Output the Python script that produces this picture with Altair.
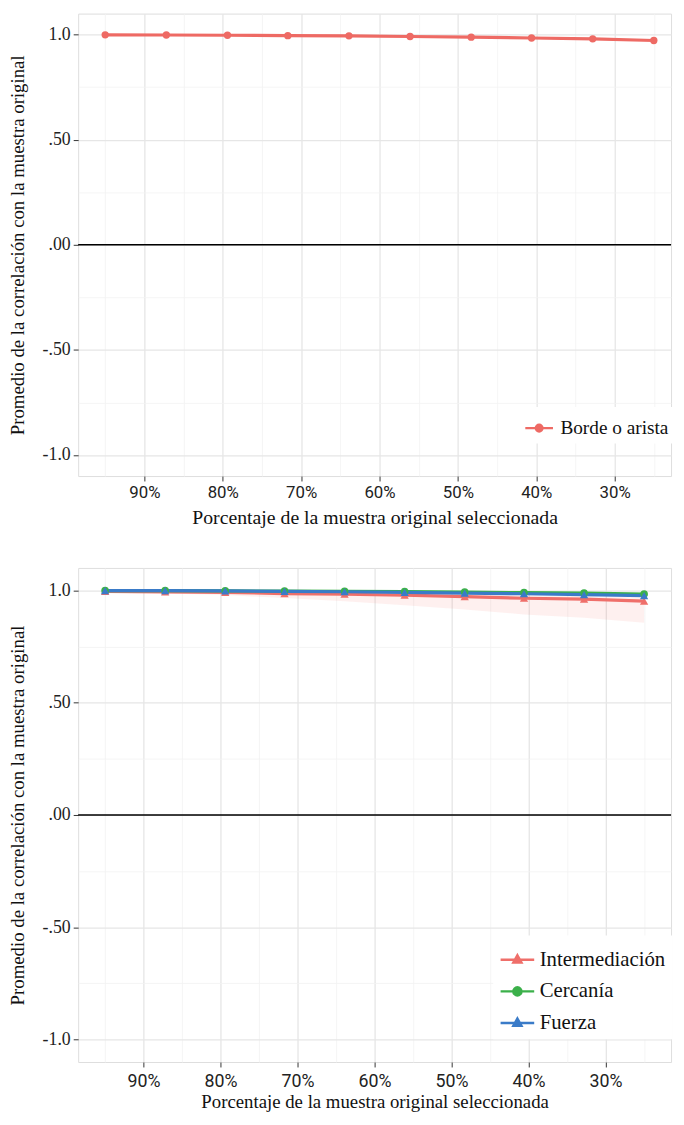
import altair as alt
import pandas as pd

# ---------------- data ----------------
pct = [95.0, 87.2, 79.4, 71.7, 63.9, 56.1, 48.3, 40.6, 32.8, 25.0]

borde = [0.999, 0.998, 0.997, 0.995, 0.994, 0.991, 0.988, 0.984, 0.980, 0.972]

intermediacion = [0.995, 0.993, 0.991, 0.986, 0.983, 0.979, 0.972, 0.965, 0.961, 0.952]
cercania = [0.999, 0.999, 0.998, 0.997, 0.996, 0.995, 0.993, 0.990, 0.988, 0.984]
fuerza = [0.999, 0.999, 0.998, 0.996, 0.994, 0.991, 0.988, 0.985, 0.981, 0.977]

inter_low = [0.990, 0.986, 0.979, 0.966, 0.952, 0.934, 0.915, 0.893, 0.878, 0.856]
inter_high = [0.998, 0.997, 0.996, 0.993, 0.991, 0.988, 0.983, 0.978, 0.975, 0.968]

series_top = ["Borde o arista"]
series_bottom = ["Intermediación", "Cercanía", "Fuerza"]
triangle_series = ["Intermediación", "Fuerza"]
circle_series = ["Cercanía"]

x_tick_values = [90, 80, 70, 60, 50, 40, 30]
x_tick_labels = ["90%", "80%", "70%", "60%", "50%", "40%", "30%"]
x_grid_values = [95, 90, 85, 80, 75, 70, 65, 60, 55, 50, 45, 40, 35, 30, 25]

y_tick_values = [1.0, 0.5, 0.0, -0.5, -1.0]
y_tick_labels = ["1.0", ".50", ".00", "-.50", "-1.0"]
y_grid_values = [-1.0, -0.75, -0.5, -0.25, 0.0, 0.25, 0.5, 0.75, 1.0]

zero_line = [0.0]

x_title = "Porcentaje de la muestra original seleccionada"
y_title = "Promedio de la correlación con la muestra original"

# ---------------- tables ----------------
df_top = pd.DataFrame({"pct": pct, "val": borde, "serie": series_top[0]})
df_bot = pd.concat([
    pd.DataFrame({"pct": pct, "val": intermediacion, "serie": series_bottom[0]}),
    pd.DataFrame({"pct": pct, "val": cercania, "serie": series_bottom[1]}),
    pd.DataFrame({"pct": pct, "val": fuerza, "serie": series_bottom[2]}),
], ignore_index=True)
df_band = pd.DataFrame({"pct": pct, "lo": inter_low, "hi": inter_high})
df_zero = pd.DataFrame({"y": zero_line})

# ---------------- styling helpers ----------------
# legend symbols: a short line with the marker in the middle
CIRCLE_LEG = "M-1,0L1,0M-0.24,0A0.24,0.24,0,1,1,0.24,0A0.24,0.24,0,1,1,-0.24,0Z"
TRI_LEG = "M-1,0L1,0M0,-0.26L0.24,0.17L-0.24,0.17Z"

SERIF = "Liberation Serif"
SANS = "Roboto"

x_label_expr = "".join(f"datum.value == {v} ? '{l}' : " for v, l in zip(x_tick_values, x_tick_labels)) + "''"
y_label_expr = "".join(f"datum.value == {v} ? '{l}' : " for v, l in zip(y_tick_values, y_tick_labels)) + "''"

x_minor_test = "datum.value % 10 != 0"
y_minor_test = "abs(datum.value * 2 - round(datum.value * 2)) > 0.000001"


def x_axis(label_size, title_size, label_pad, title_pad):
    return alt.Axis(
        values=x_grid_values, labelExpr=x_label_expr, title=x_title,
        labelFont=SANS, labelFontSize=label_size, labelColor="#222222",
        titleFont=SERIF, titleFontSize=title_size, titleFontWeight="normal", titleColor="#111111",
        labelPadding=label_pad, titlePadding=title_pad, domain=False,
        tickSize=5, tickColor="#333333", tickWidth=1,
        tickOpacity={"condition": {"test": x_minor_test, "value": 0}, "value": 1},
        gridColor={"condition": {"test": x_minor_test, "value": "#f2f2f2"}, "value": "#e6e6e6"},
        gridWidth={"condition": {"test": x_minor_test, "value": 0.8}, "value": 1.3},
        labelFlush=False, labelOverlap=False,
    )


def y_axis(label_size, title_size, title_pad):
    return alt.Axis(
        values=y_grid_values, labelExpr=y_label_expr, title=y_title,
        labelFont=SERIF, labelFontSize=label_size, labelColor="#222222",
        titleFont=SERIF, titleFontSize=title_size, titleFontWeight="normal", titleColor="#111111",
        labelPadding=3, titlePadding=title_pad, domain=False,
        tickSize=5, tickColor="#333333", tickWidth=1,
        tickOpacity={"condition": {"test": y_minor_test, "value": 0}, "value": 1},
        gridColor={"condition": {"test": y_minor_test, "value": "#f2f2f2"}, "value": "#e6e6e6"},
        gridWidth={"condition": {"test": y_minor_test, "value": 0.8}, "value": 1.3},
        labelFlush=False, labelOverlap=False,
    )


def legend(x, y, sym, font_size, label_offset, row_pad):
    return alt.Legend(
        title=None, orient="none", legendX=x, legendY=y,
        fillColor="white", padding=6, rowPadding=row_pad,
        symbolSize=sym, symbolStrokeWidth=2.5, symbolOpacity=1,
        labelFont=SERIF, labelFontSize=font_size, labelColor="#111111",
        labelOffset=label_offset,
    )


ys = alt.Scale(domain=[-1.1, 1.1], nice=False, zero=False)

# ---------------- top panel ----------------
top_colors = ["#ee6a64"]
xs_top = alt.Scale(domain=[22.8, 98.45], reverse=True, nice=False, zero=False)
leg_top = legend(445, 398, 784, 19.5, 6, 0)
col_top = alt.Scale(domain=series_top, range=top_colors)

top_base = alt.Chart(df_top)
top_line = top_base.mark_line(strokeWidth=3.2).encode(
    x=alt.X("pct:Q", scale=xs_top, axis=x_axis(17, 20, 4, 7)),
    y=alt.Y("val:Q", scale=ys, axis=y_axis(18, 19, 15)),
    stroke=alt.Stroke("serie:N", scale=col_top, legend=leg_top),
)
top_pts = top_base.mark_point(filled=True, shape="circle", size=55, opacity=1).encode(
    x="pct:Q", y="val:Q",
    fill=alt.Fill("serie:N", scale=col_top, legend=leg_top),
)
top_leg = top_base.mark_point(filled=True, opacity=0, strokeWidth=2.5).encode(
    x="pct:Q", y="val:Q",
    fill=alt.Fill("serie:N", scale=col_top, legend=leg_top),
    stroke=alt.Stroke("serie:N", scale=col_top, legend=leg_top),
    shape=alt.Shape("serie:N", scale=alt.Scale(domain=series_top, range=[CIRCLE_LEG]), legend=leg_top),
)
top_zero = alt.Chart(df_zero).mark_rule(color="black", strokeWidth=1.5).encode(y="y:Q")

top = alt.layer(top_line, top_zero, top_pts, top_leg).properties(width=600, height=468)

# ---------------- bottom panel ----------------
bot_colors = ["#ef6f6a", "#3bb04a", "#3a7bc8"]
xs_bot = alt.Scale(domain=[21.5, 98.5], reverse=True, nice=False, zero=False)
leg_bot = legend(420, 372, 1156, 21, 4, 3)
col_bot = alt.Scale(domain=series_bottom, range=bot_colors)

band = alt.Chart(df_band).mark_area(color="#F8766D", opacity=0.11).encode(
    x=alt.X("pct:Q", scale=xs_bot, axis=x_axis(18, 19, 6, 2)),
    y=alt.Y("lo:Q", scale=ys, axis=y_axis(18, 19, 15)),
    y2="hi:Q",
)
bot_base = alt.Chart(df_bot)
bot_line = bot_base.mark_line(strokeWidth=3.2).encode(
    x="pct:Q", y="val:Q",
    stroke=alt.Stroke("serie:N", scale=col_bot, sort=series_bottom, legend=leg_bot),
    order=alt.Order("pct:Q", sort="descending"),
)
bot_circles = bot_base.transform_filter(
    alt.FieldOneOfPredicate(field="serie", oneOf=circle_series)
).mark_point(filled=True, shape="circle", size=60, opacity=1).encode(
    x="pct:Q", y="val:Q",
    fill=alt.Fill("serie:N", scale=col_bot, sort=series_bottom, legend=leg_bot),
)
bot_tris = bot_base.transform_filter(
    alt.FieldOneOfPredicate(field="serie", oneOf=triangle_series)
).mark_point(filled=True, shape="triangle-up", size=70, opacity=1).encode(
    x="pct:Q", y="val:Q",
    fill=alt.Fill("serie:N", scale=col_bot, sort=series_bottom, legend=leg_bot),
)
bot_leg = bot_base.mark_point(filled=True, opacity=0, strokeWidth=2.5).encode(
    x="pct:Q", y="val:Q",
    fill=alt.Fill("serie:N", scale=col_bot, sort=series_bottom, legend=leg_bot),
    stroke=alt.Stroke("serie:N", scale=col_bot, sort=series_bottom, legend=leg_bot),
    shape=alt.Shape("serie:N", scale=alt.Scale(domain=series_bottom,
                                               range=[TRI_LEG, CIRCLE_LEG, TRI_LEG]),
                    sort=series_bottom, legend=leg_bot),
)
bot_zero = alt.Chart(df_zero).mark_rule(color="black", strokeWidth=1.5).encode(y="y:Q")

bottom = alt.layer(band, bot_line, bot_zero, bot_circles, bot_tris, bot_leg).properties(
    width=600, height=500
)

chart = alt.vconcat(top, bottom, spacing=39).resolve_scale(
    x="independent", y="independent", fill="independent", stroke="independent", shape="independent"
).resolve_legend(
    fill="independent", stroke="independent", shape="independent"
).properties(
    padding={"left": 0, "top": -2, "right": 0, "bottom": 0}
).configure_view(
    stroke="#555555", strokeWidth=1
).configure(background="white")

chart.save("out.html", embed_options={"renderer": "svg", "actions": False})
